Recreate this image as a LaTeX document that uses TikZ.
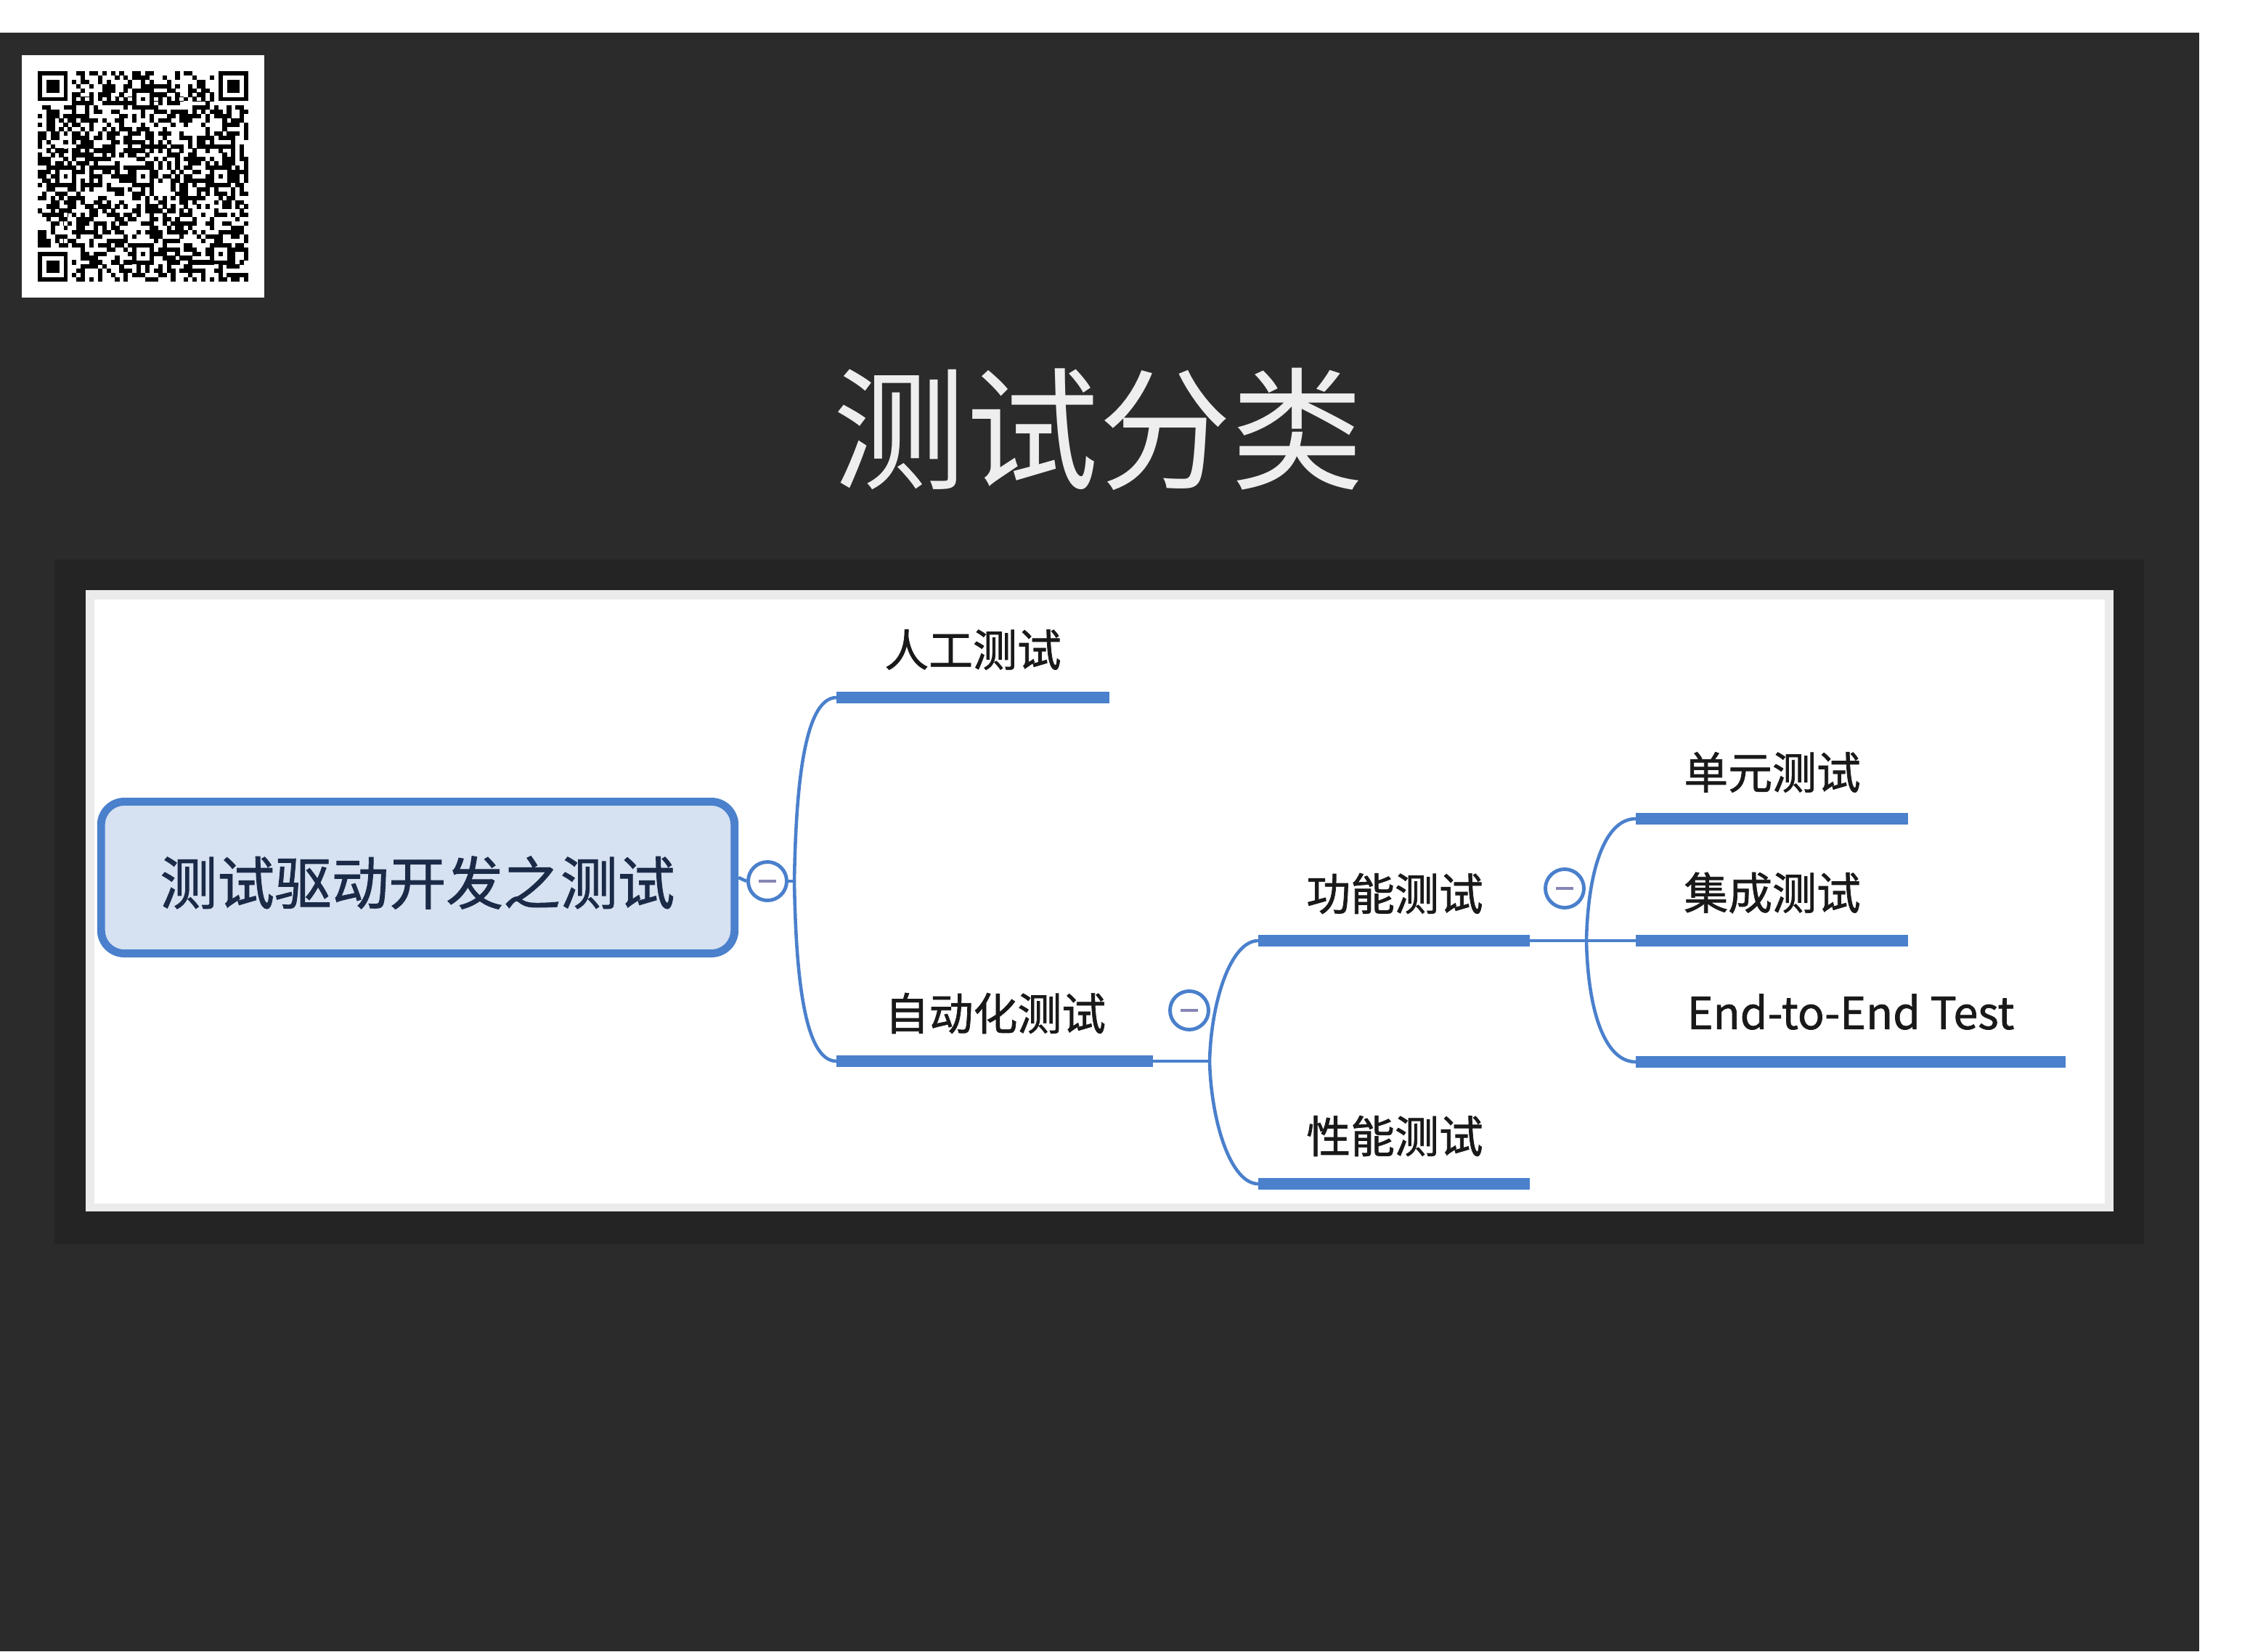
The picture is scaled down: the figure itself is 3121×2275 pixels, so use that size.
\documentclass[tikz,border=0pt]{standalone}
\usepackage{fontspec}
\newfontfamily\cjk{Noto Sans CJK SC}
\newfontfamily\cjkheavy[FakeBold=1.2]{Noto Sans CJK SC}
\definecolor{slate}{HTML}{2B2B2B}
\definecolor{panel}{HTML}{242424}
\definecolor{rim}{HTML}{EBEBEB}
\definecolor{mapblue}{RGB}{74,128,204}
\definecolor{rootfill}{HTML}{D6E1F1}
\definecolor{rootink}{HTML}{1B2A47}
\definecolor{minusink}{HTML}{8585B5}
\definecolor{titleink}{HTML}{EEEEEE}

\begin{document}
\begin{tikzpicture}[x=0.01cm,y=-0.01cm,
  bar/.style={draw=mapblue,line width=4.6pt,line cap=butt},
  link/.style={draw=mapblue,line width=1.3pt},
  toggle/.style={circle,draw=mapblue,line width=1.4pt,fill=white,
    minimum size=0.53cm,inner sep=0pt,
    path picture={\draw[minusink,line width=1.3pt]
      ([xshift=-0.12cm]path picture bounding box.center) --
      ([xshift=0.12cm]path picture bounding box.center);}},
  label/.style={font=\cjkheavy\fontsize{17.3}{20}\selectfont,text=black!90,inner sep=0pt},
]
\useasboundingbox (0,0) rectangle (3121,2275);

% page background and framed panel
\fill[white] (0,0) rectangle (3121,2275);
\fill[slate] (0,45) rectangle (3029,2275);
\fill[panel] (75,771) rectangle (2953,1714);
\fill[rim] (118,813) rectangle (2911,1669);
\fill[white] (130,826) rectangle (2899,1658);

% QR code in the top-left corner
\fill[white] (30,76) rectangle (364,410);
\begin{scope}[shift={(52,98)},x=0.05918cm,y=-0.05918cm]
  \pgfmathsetseed{7}
  \foreach \i in {0,...,48}{
    \foreach \j in {0,...,48}{
      \pgfmathtruncatemacro\bit{rnd<0.48 ? 1 : 0}
      \ifnum\bit=1 \fill[black] (\i-0.02,\j-0.02) rectangle (\i+1.02,\j+1.02);\fi
    }
  }
  % timing patterns
  \fill[white] (8,6) rectangle (41,7);
  \fill[white] (6,8) rectangle (7,41);
  \foreach \k in {8,10,...,40}{
    \fill[black] (\k,6) rectangle (\k+1,7);
    \fill[black] (6,\k) rectangle (7,\k+1);
  }
  % finder patterns
  \foreach \a/\b in {0/0,42/0,0/42}{
    \fill[white] (\a-1,\b-1) rectangle (\a+8,\b+8);
    \fill[black] (\a,\b) rectangle (\a+7,\b+7);
    \fill[white] (\a+1,\b+1) rectangle (\a+6,\b+6);
    \fill[black] (\a+2,\b+2) rectangle (\a+5,\b+5);
  }
  % alignment patterns
  \foreach \a/\b in {24/6,6/24,24/24,42/24,24/42,42/42}{
    \fill[black] (\a-2,\b-2) rectangle (\a+3,\b+3);
    \fill[white] (\a-1,\b-1) rectangle (\a+2,\b+2);
    \fill[black] (\a,\b) rectangle (\a+1,\b+1);
  }
\end{scope}

% title
\node[font=\cjk\fontsize{52}{60}\selectfont,text=titleink,inner sep=0pt] (title) at (1513,591) {测试分类};

% root topic
\node[draw=mapblue,line width=3.1pt,fill=rootfill,rounded corners=0.32cm,
      minimum width=8.72cm,minimum height=2.09cm] (root) at (575.5,1209) {};
\node[font=\cjkheavy\fontsize{22.4}{26}\selectfont,text=rootink,inner sep=0pt] (rootlabel) at (575,1216) {测试驱动开发之测试};

% branch anchor points
\coordinate (j1) at (1094,1214);
\coordinate (j2) at (1666,1462);
\coordinate (j3) at (2185,1296);
\coordinate (manualL) at (1152,961);  \coordinate (manualR) at (1528,961);
\coordinate (autoL) at (1152,1462);   \coordinate (autoR) at (1588,1462);
\coordinate (funcL) at (1733,1296);   \coordinate (funcR) at (2107,1296);
\coordinate (perfL) at (1733,1631);   \coordinate (perfR) at (2107,1631);
\coordinate (unitL) at (2253,1128);   \coordinate (unitR) at (2628,1128);
\coordinate (integL) at (2253,1296);  \coordinate (integR) at (2628,1296);
\coordinate (etoeL) at (2253,1463);   \coordinate (etoeR) at (2845,1463);

% collapse toggles
\node[toggle] (t0) at (1057,1214) {};
\node[toggle] (t1) at (1638,1392) {};
\node[toggle] (t2) at (2155,1224) {};

% connectors
\draw[link] (root.east) -- (t0.west);
\draw[link] (t0.east) -- (j1);
\draw[link] (j1) .. controls (1096,1100) and (1105,961) .. (manualL);
\draw[link] (j1) .. controls (1096,1328) and (1105,1462) .. (autoL);
\draw[link] (autoR) -- (j2);
\draw[link] (j2) .. controls (1668,1380) and (1695,1296) .. (funcL);
\draw[link] (j2) .. controls (1668,1545) and (1695,1631) .. (perfL);
\draw[link] (funcR) -- (j3) -- (integL);
\draw[link] (j3) .. controls (2187,1200) and (2210,1128) .. (unitL);
\draw[link] (j3) .. controls (2187,1392) and (2210,1463) .. (etoeL);

% topic underlines
\draw[bar] (manualL) -- (manualR);
\draw[bar] (autoL) -- (autoR);
\draw[bar] (funcL) -- (funcR);
\draw[bar] (perfL) -- (perfR);
\draw[bar] (unitL) -- (unitR);
\draw[bar] (integL) -- (integR);
\draw[bar] (etoeL) -- (etoeR);

% topic labels
\node[label] (manual) at (1340,895) {人工测试};
\node[label] (auto) at (1371,1396) {自动化测试};
\node[label] (func) at (1921,1231) {功能测试};
\node[label] (perf) at (1921,1565) {性能测试};
\node[label] (unit) at (2441,1064) {单元测试};
\node[label] (integ) at (2441,1230) {集成测试};
\node[label] (etoe) at (2549,1394) {End-to-End Test};
\end{tikzpicture}
\end{document}
